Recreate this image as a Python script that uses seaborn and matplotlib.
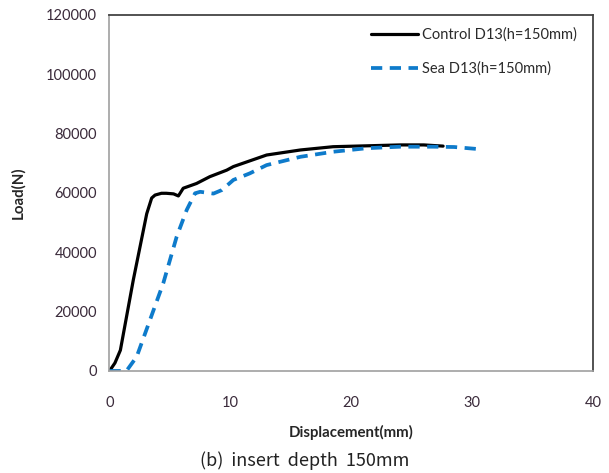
import matplotlib
matplotlib.use("Agg")
import matplotlib.pyplot as plt
import seaborn as sns
import pandas as pd

sns.set_theme(style="white")
plt.rcParams['font.family'] = ['Lato', 'DejaVu Sans']

# Control D13 (h=150mm)
ctrl_x = [0, 0.45, 0.9, 1.97, 3.08, 3.49, 3.77, 4.3, 4.7, 5.3, 5.7, 6.1, 7.2, 8.3, 9.7,
          10.25, 13.0, 15.8, 18.5, 21.3, 24.05, 26.0, 27.6]
ctrl_y = [0, 2700, 7000, 30700, 53000, 58300, 59300, 59900, 59900, 59700, 59000, 61600, 63200,
          65500, 67700, 68900, 72800, 74500, 75600, 75900, 76200, 76200, 75800]

# Sea D13 (h=150mm)
sea_x = [0, 1.4, 2.25, 3.35, 4.45, 5.56, 6.39, 7.08, 7.5, 8.6, 9.3, 10.25, 11.6, 13.0, 15.8,
         18.5, 21.3, 24.05, 26.8, 28.5, 30.8]
sea_y = [0, 0, 4800, 17200, 29600, 45300, 54300, 59900, 60400, 59800, 61000, 64400, 66600,
         69400, 72200, 73900, 75100, 75600, 75600, 75500, 74700]

x_ticks = [0, 10, 20, 30, 40]
y_ticks = [0, 20000, 40000, 60000, 80000, 100000, 120000]

df_c = pd.DataFrame({"x": ctrl_x, "y": ctrl_y})
df_s = pd.DataFrame({"x": sea_x, "y": sea_y})

fig = plt.figure(figsize=(6.09, 4.73), dpi=100)
ax = fig.add_axes([0.1798, 0.2157, 0.7939, 0.7526])

sns.lineplot(data=df_c, x="x", y="y", ax=ax, color="black", linewidth=2.3,
             label="Control D13(h=150mm)", sort=False, estimator=None)
sns.lineplot(data=df_s, x="x", y="y", ax=ax, color="#0E7BCB", linewidth=2.7,
             label="Sea D13(h=150mm)", sort=False, estimator=None)
ax.lines[1].set_dashes([3.0, 2.0])

ax.set_xlim(0, 40)
ax.set_ylim(0, 120000)
ax.set_xticks(x_ticks)
ax.set_yticks(y_ticks)
ax.set_xticklabels([str(v) for v in x_ticks])
ax.set_yticklabels([str(v) for v in y_ticks])
ax.tick_params(axis='both', which='both', direction='out', length=4, width=1,
               color='#999999', labelsize=10.5, labelcolor='#3a2a3a')
ax.tick_params(axis='x', pad=14)
ax.tick_params(axis='y', pad=5)

for s in ['left', 'bottom']:
    ax.spines[s].set_color('#a0a0a0')
    ax.spines[s].set_linewidth(1.2)
for s in ['top', 'right']:
    ax.spines[s].set_color('#444444')
    ax.spines[s].set_linewidth(1.3)

ax.set_xlabel("Displacement(mm)", fontsize=10.8, fontweight='bold', labelpad=11)
ax.set_ylabel("Load(N)", fontsize=10.8, fontweight='bold', labelpad=15)

leg = ax.legend(loc='upper right', frameon=False, fontsize=10.5,
                handlelength=3.2, handletextpad=0.3, labelspacing=1.35,
                bbox_to_anchor=(0.985, 0.99), borderaxespad=0.2)
for t in leg.get_texts():
    t.set_color('#2a2a2a')

fig.text(0.5, 0.027, "(b)  insert  depth  150mm", ha='center', va='center',
         fontsize=13, family=['Noto Sans CJK KR', 'DejaVu Sans'], color='#222222')

fig.savefig("out.png", dpi=100)
